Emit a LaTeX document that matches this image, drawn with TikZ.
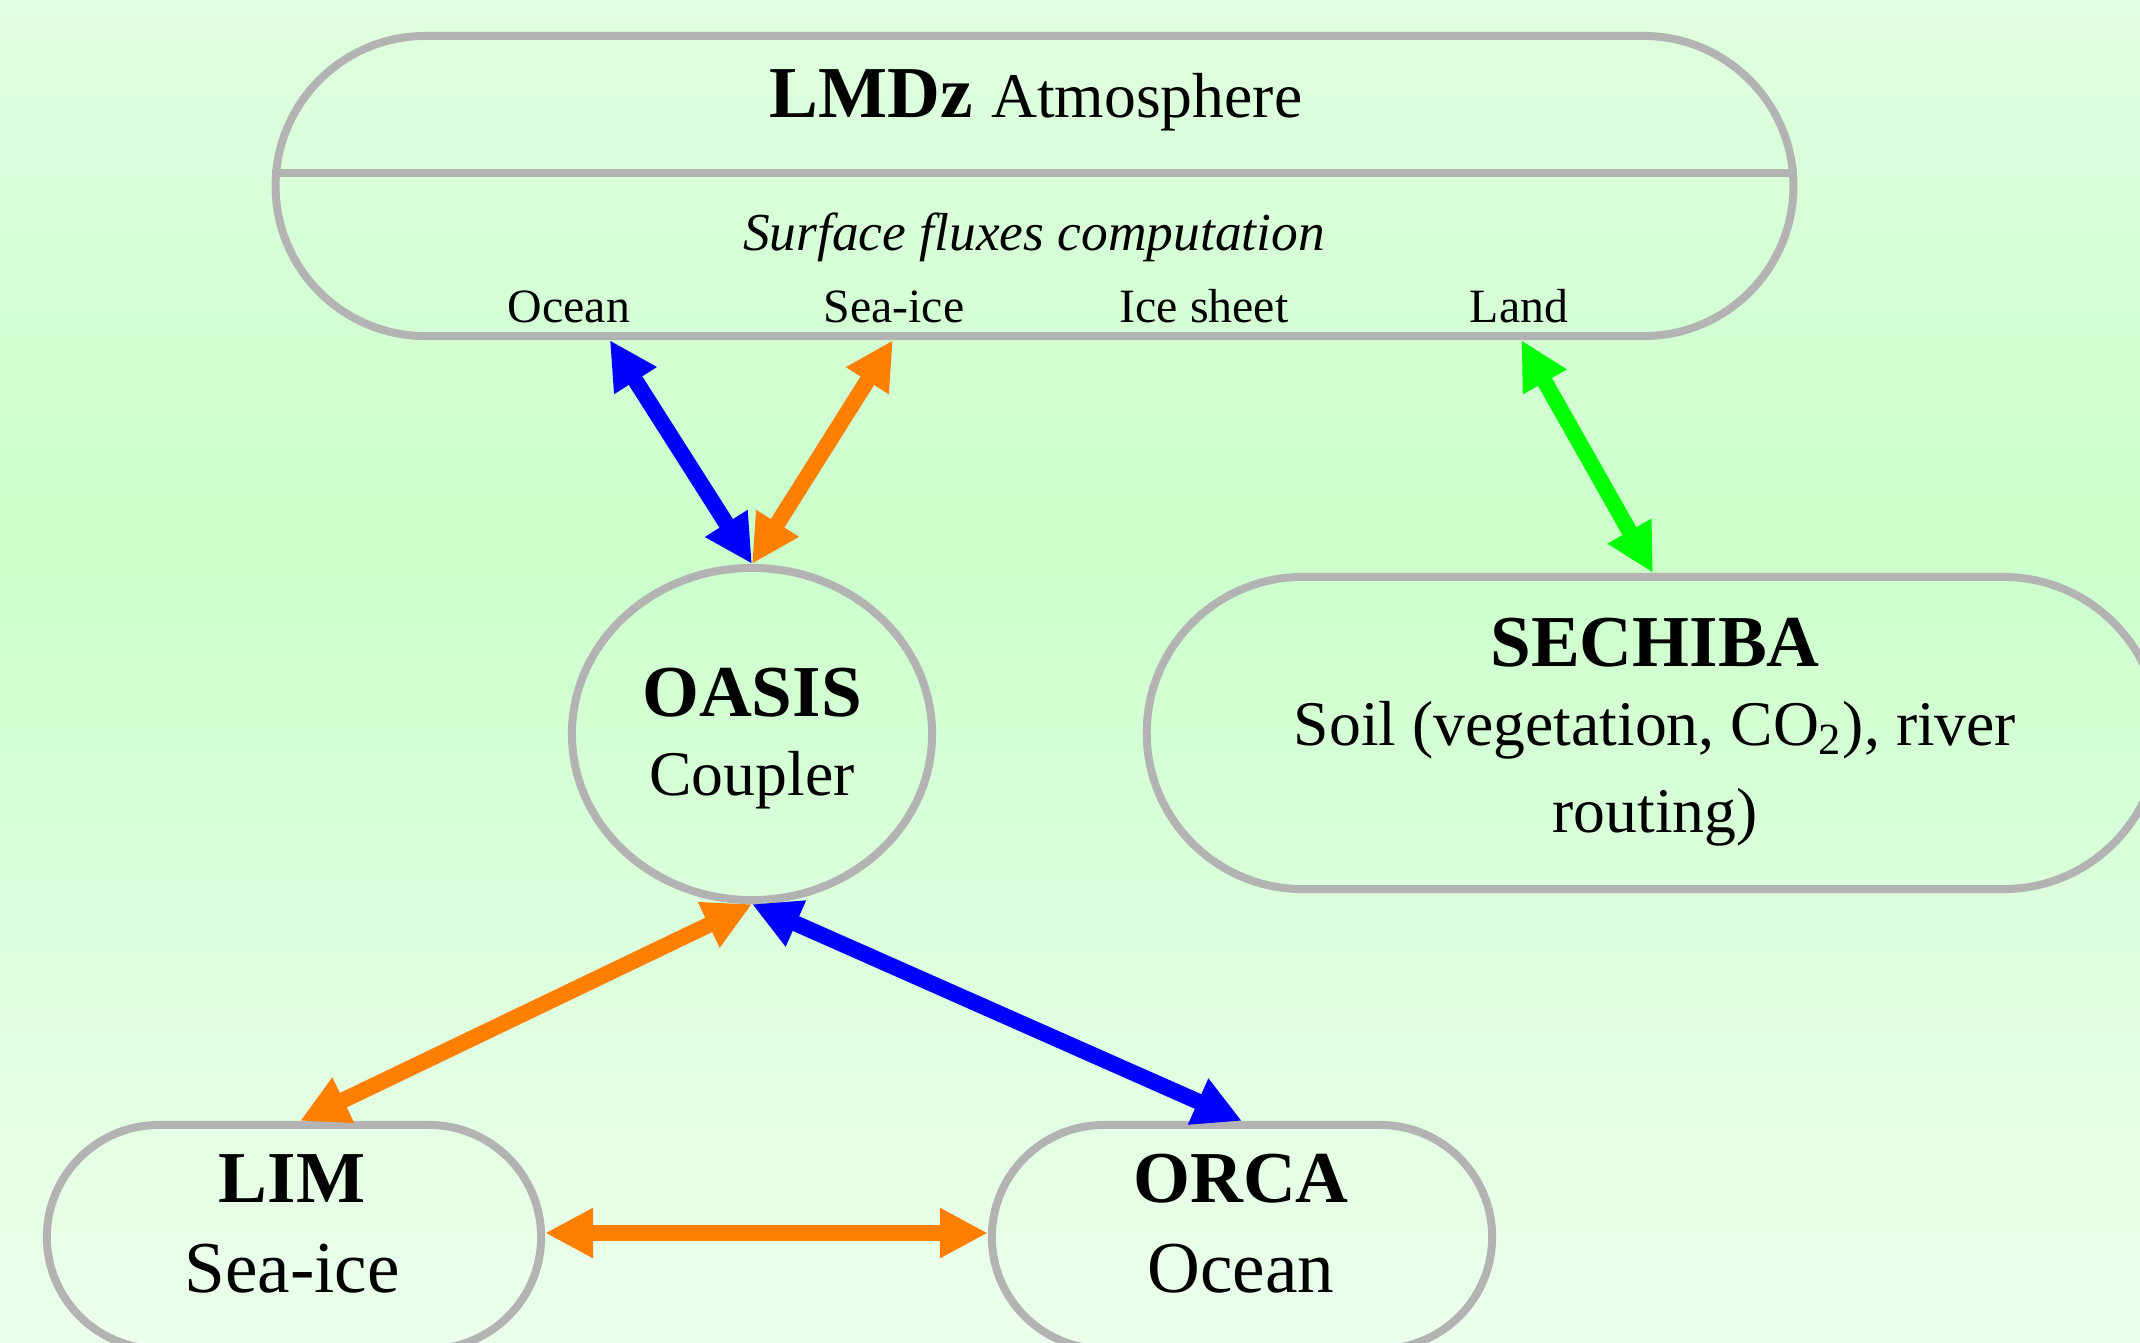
\documentclass[tikz,border=0pt]{standalone}
\usepackage{fontspec}
\setmainfont{Liberation Serif}
\usetikzlibrary{shapes.misc,shapes.geometric,arrows.meta}
\definecolor{edgegray}{HTML}{B3B3B3}
\definecolor{bgtop}{HTML}{E0FFE0}
\definecolor{bgmid}{HTML}{CCFFCC}
\definecolor{bgbot}{HTML}{ECFFEC}
\definecolor{iceorange}{HTML}{FF7F00}
\definecolor{landgreen}{HTML}{00FF00}
\pgfdeclareverticalshading{bgshade}{100bp}{color(0bp)=(bgbot); color(25bp)=(bgbot); color(55bp)=(bgmid); color(75bp)=(bgtop); color(100bp)=(bgtop)}

\begin{document}
\begin{tikzpicture}[x=0.01cm, y=-0.01cm,
    comp/.style={rounded rectangle, draw=edgegray, line width=0.08cm, inner sep=0pt},
    coupler/.style={ellipse, draw=edgegray, line width=0.08cm, inner sep=0pt},
    big/.style={font=\bfseries\fontsize{20.8}{25}\selectfont, anchor=base},
    sub/.style={font=\fontsize{18.1}{22}\selectfont, anchor=base},
    small/.style={font=\fontsize{13.6}{16}\selectfont, anchor=base},
    flux/.style={<->, line width=0.16cm},
    >={Triangle[length=0.48cm, width=0.47cm]}]
  \useasboundingbox (0,0) rectangle (2140,1342);
  \clip (0,0) rectangle (2140,1342);
  \shade[shading=bgshade] (0,0) rectangle (2140,1342);

  \node[comp, minimum width=15.17cm, minimum height=3.0cm] (LMDZ) at (1034.5,186) {};
  \draw[edgegray, line width=0.08cm] ([yshift=0.13cm]LMDZ.west) -- ([yshift=0.13cm]LMDZ.east);
  \node[big] (LMDZt) at (1036,117) {LMDz {\mdseries\fontsize{18.1}{22}\selectfont Atmosphere}};
  \node[small, font=\itshape\fontsize{15.2}{18}\selectfont] (SFC) at (1034,250) {Surface fluxes computation};
  \node[small] (Oc) at (569,322) {Ocean};
  \node[small] (Si) at (894,322) {Sea-ice};
  \node[small] (Is) at (1204,322) {Ice sheet};
  \node[small] (Ld) at (1519,322) {Land};
  \coordinate (pOc) at ([xshift=-4.245cm]LMDZ.south);
  \coordinate (pSi) at ([xshift=-1.415cm]LMDZ.south);
  \coordinate (pLd) at ([xshift=4.865cm]LMDZ.south);

  \node[coupler, minimum width=3.6cm, minimum height=3.32cm] (OASIS) at (752,734) {};
  \node[big] (OASISt) at (752,716) {OASIS};
  \node[sub] (OASISs) at (752,795) {Coupler};

  \node[comp, minimum width=10.12cm, minimum height=3.12cm] (SECHIBA) at (1653,733) {};
  \node[big] (SECHIBAt) at (1655,666) {SECHIBA};
  \node[sub] (SECHIBAs) at (1655,745) {Soil (vegetation, CO\textsubscript{2}), river};
  \node[sub] (SECHIBAr) at (1655,832) {routing)};

  \node[comp, minimum width=4.94cm, minimum height=2.24cm] (LIM) at (294,1237) {};
  \node[big] (LIMt) at (292,1202) {LIM};
  \node[big, font=\fontsize{20.8}{25}\selectfont] (LIMs) at (292,1292) {Sea-ice};

  \node[comp, minimum width=5.0cm, minimum height=2.24cm] (ORCA) at (1242,1237) {};
  \node[big] (ORCAt) at (1241,1202) {ORCA};
  \node[big, font=\fontsize{20.8}{25}\selectfont] (ORCAs) at (1241,1292) {Ocean};

  \draw[flux, blue] (pOc) -- (OASIS.north);
  \draw[flux, iceorange] (pSi) -- (OASIS.north);
  \draw[flux, landgreen] (pLd) -- (SECHIBA.north);
  \draw[flux, iceorange] (OASIS.south) -- ([xshift=0.06cm]LIM.north);
  \draw[flux, blue] (OASIS.south) -- (ORCA.north);
  \draw[flux, iceorange] ([yshift=0.04cm]LIM.east) -- ([yshift=0.04cm]ORCA.west);
\end{tikzpicture}
\end{document}
